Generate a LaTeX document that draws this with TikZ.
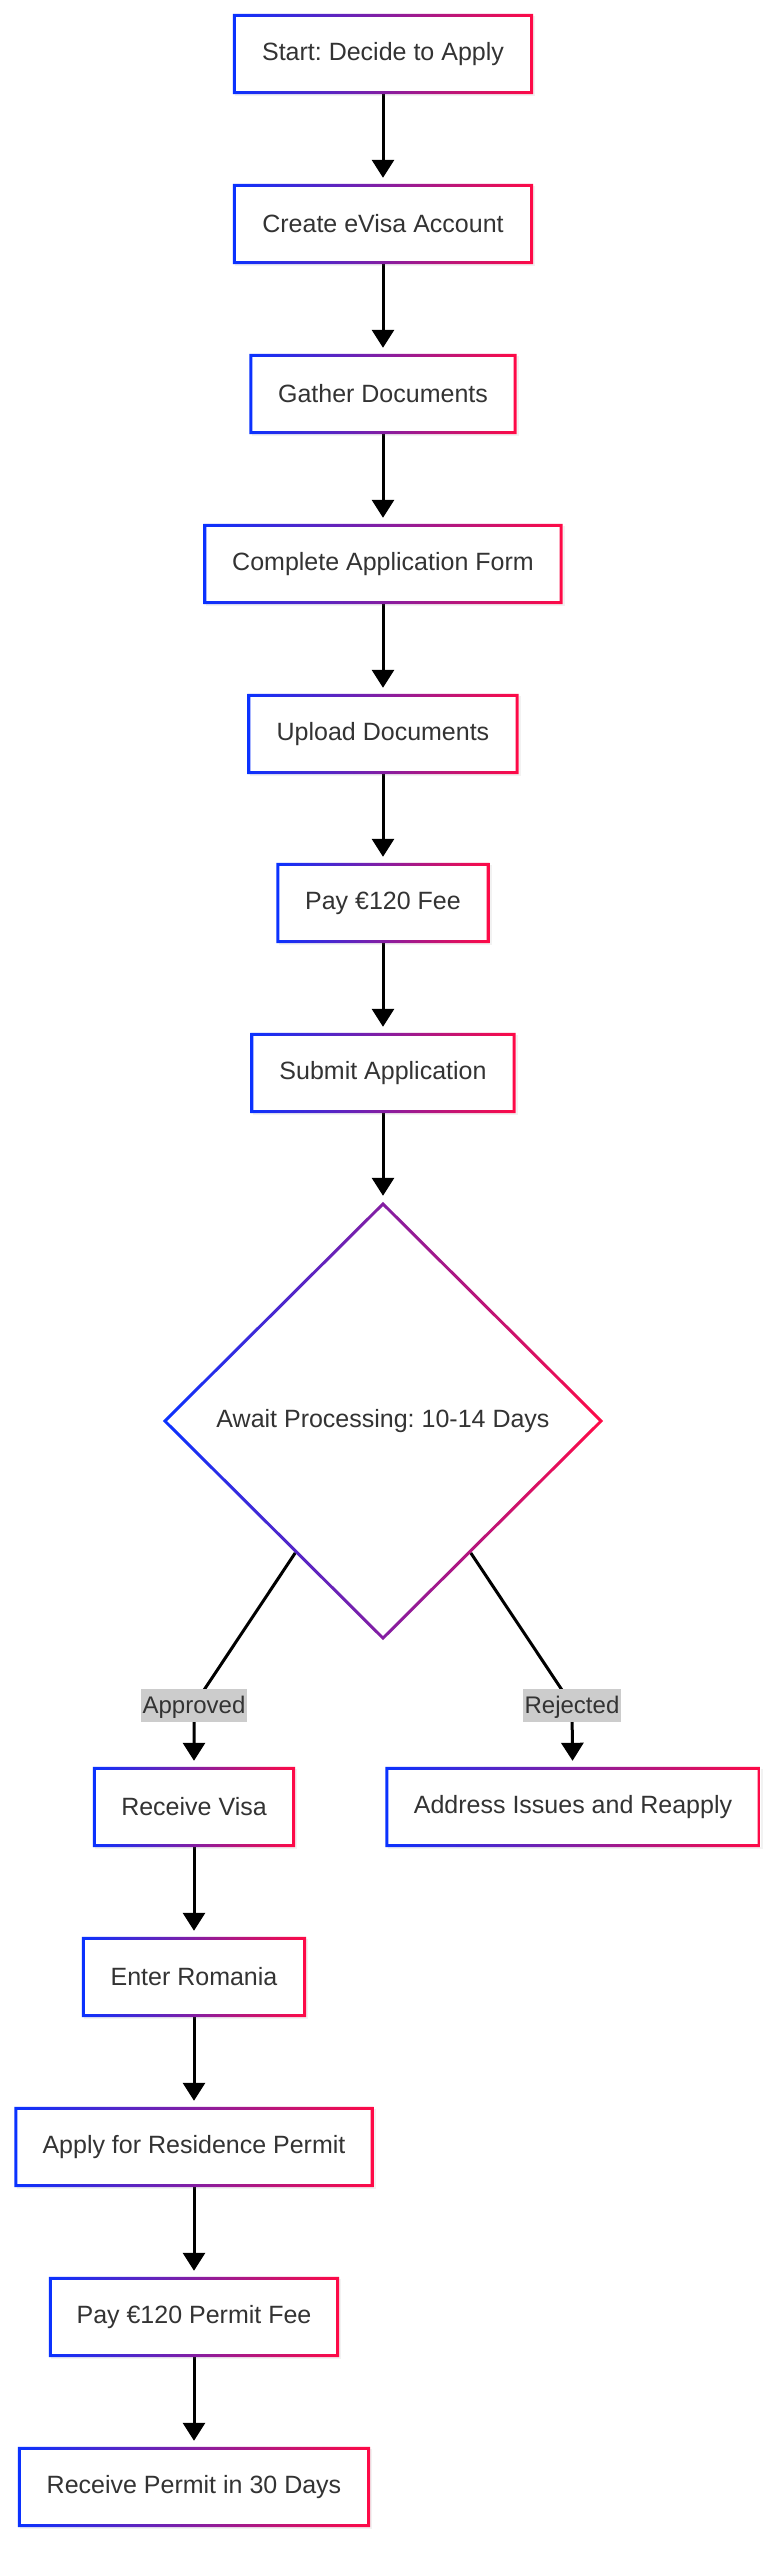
\documentclass[tikz,border=0pt]{standalone}
\usepackage{fontspec}
\setmainfont{Liberation Sans}
\usetikzlibrary{arrows.meta,shapes.geometric,shadows}
\definecolor{gblue}{HTML}{0A32FF}
\definecolor{gred}{HTML}{FF0A46}
\definecolor{txt}{HTML}{333333}
\definecolor{labbg}{HTML}{CCCCCC}
\pgfdeclarelayer{bg}
\pgfsetlayers{bg,main}
\frenchspacing
\newcommand\gradring[1]{\shade[left color=gblue,right color=gred,even odd rule] (#1.south west) rectangle (#1.north east) ([shift={(3pt,3pt)}]#1.south west) rectangle ([shift={(-3pt,-3pt)}]#1.north east);}
\begin{document}
\begin{tikzpicture}[x=1pt,y=-1pt,
  stepbox/.style={rectangle, fill=white, minimum height=80pt, inner sep=0pt, text=txt,
    font=\fontsize{25}{30}\selectfont,
    drop shadow={opacity=0.10,shadow xshift=2pt,shadow yshift=-2pt}},
  decbox/.style={diamond, fill=white, inner sep=0pt, minimum width=440pt, minimum height=438pt,
    text=txt, font=\fontsize{25}{30}\selectfont},
  edgelab/.style={fill=labbg, text=txt, inner xsep=2pt, inner ysep=0pt, text height=25pt, text depth=8pt,
    font=\fontsize{24}{28}\selectfont},
  edge/.style={line width=3pt, draw=black, -{Triangle[width=22pt,length=18pt]}, shorten >=6pt}
]
\useasboundingbox (0,0) rectangle (780,2560);

\node[stepbox, minimum width=300pt] (n1) at (383,54) {Start: Decide to Apply};
\node[stepbox, minimum width=300pt] (n2) at (383,224) {Create eVisa Account};
\node[stepbox, minimum width=267pt] (n3) at (383,394) {Gather Documents};
\node[stepbox, minimum width=359pt] (n4) at (383,564) {Complete Application Form};
\node[stepbox, minimum width=271pt] (n5) at (383,734) {Upload Documents};
\node[stepbox, minimum width=213pt] (n6) at (383,903) {Pay €120 Fee};
\node[stepbox, minimum width=265pt] (n7) at (383,1073) {Submit Application};
\node[decbox] (d) at (383,1421) {Await Processing: 10-14 Days};
\node[stepbox, minimum width=202pt] (v1) at (194,1807) {Receive Visa};
\node[stepbox, minimum width=375pt] (ra) at (573,1807) {Address Issues and Reapply};
\node[stepbox, minimum width=224pt] (v2) at (194,1977) {Enter Romania};
\node[stepbox, minimum width=359pt] (v3) at (194,2147) {Apply for Residence Permit};
\node[stepbox, minimum width=290pt] (v4) at (194,2317) {Pay €120 Permit Fee};
\node[stepbox, minimum width=352pt] (v5) at (194,2487) {Receive Permit in 30 Days};

\node[edgelab] (la) at (194,1705) {Approved};
\node[edgelab] (lr) at (572,1705) {Rejected};

\foreach \n in {n1,n2,n3,n4,n5,n6,n7,v1,ra,v2,v3,v4,v5} {\gradring{\n}}
\shade[left color=gblue,right color=gred,even odd rule]
  (d.north) -- (d.east) -- (d.south) -- (d.west) -- cycle
  ([yshift=-4.2pt]d.north) -- ([xshift=-4.2pt]d.east) -- ([yshift=4.2pt]d.south) -- ([xshift=4.2pt]d.west) -- cycle;

\begin{pgfonlayer}{bg}
\fill[white] (0,0) rectangle (780,2560);
\draw[edge] (n1) -- (n2);
\draw[edge] (n2) -- (n3);
\draw[edge] (n3) -- (n4);
\draw[edge] (n4) -- (n5);
\draw[edge] (n5) -- (n6);
\draw[edge] (n6) -- (n7);
\draw[edge] (n7) -- (d);
\draw[edge] (d) -- (la.center) -- (v1);
\draw[edge] (d) -- (lr.center) -- (ra);
\draw[edge] (v1) -- (v2);
\draw[edge] (v2) -- (v3);
\draw[edge] (v3) -- (v4);
\draw[edge] (v4) -- (v5);
\end{pgfonlayer}
\end{tikzpicture}
\end{document}
